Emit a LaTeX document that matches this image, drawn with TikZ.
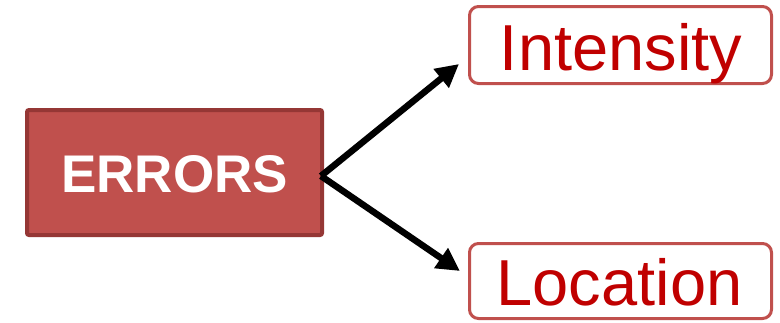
\documentclass[tikz,border=0pt]{standalone}
\usepackage{fontspec}
\setmainfont{Liberation Sans}
\usetikzlibrary{arrows.meta}
\definecolor{errfill}{HTML}{C0504D}
\definecolor{errline}{HTML}{953735}
\definecolor{boxline}{HTML}{C0504D}
\definecolor{labelred}{HTML}{C00000}
\tikzset{
  mainbox/.style={draw=errline, fill=errfill, line width=4pt, rounded corners=2pt,
    minimum width=295pt, minimum height=125pt, inner sep=0pt},
  targetbox/.style={draw=boxline, fill=white, line width=3pt, rounded corners=9pt,
    minimum width=302pt, inner sep=0pt},
  mainlabel/.style={anchor=base, text=white, font=\fontsize{53}{60}\selectfont\bfseries, inner sep=0pt},
  targetlabel/.style={anchor=base, text=labelred, font=\fontsize{65}{75}\selectfont, inner sep=0pt},
  branch/.style={line width=6.5pt, -{Triangle[length=23pt,width=23pt]}}
}
\begin{document}
\begin{tikzpicture}[x=1pt,y=-1pt]
  \useasboundingbox (0,0) rectangle (780,322);
  % source box
  \node[mainbox] (err) at (174.5,172.5) {};
  \node[mainlabel] (errtxt) at (174.5,192) {ERRORS};
  % target boxes
  \node[targetbox, minimum height=77pt] (int) at (620.5,45) {};
  \node[targetlabel] (inttxt) at (621,70) {Intensity};
  \node[targetbox, minimum height=75pt] (loc) at (620.5,281) {};
  \node[targetlabel] (loctxt) at (619.5,305) {Location};
  % branching arrows
  \coordinate (fork) at (321,176);
  \coordinate (inttip) at (459,64);
  \coordinate (loctip) at (460,271);
  \draw[branch] (fork) -- (inttip);
  \draw[branch] (fork) -- (loctip);
\end{tikzpicture}
\end{document}
